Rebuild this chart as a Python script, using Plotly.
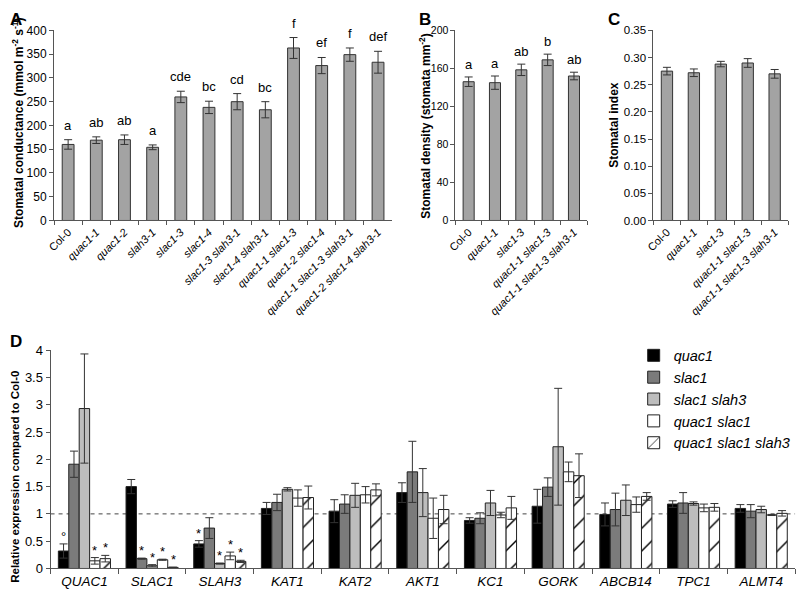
import plotly.graph_objects as go

W, H = 800, 595

# ---------------- data ----------------
a_cats = ["Col-0", "quac1-1", "quac1-2", "slah3-1", "slac1-3", "slac1-4",
          "slac1-3 slah3-1", "slac1-4 slah3-1", "quac1-1 slac1-3",
          "quac1-2 slac1-4", "quac1-1 slac1-3 slah3-1", "quac1-2 slac1-4 slah3-1"]
a_vals = [160, 169, 170, 154, 260, 238, 250, 233, 363, 326, 349, 333]
a_err = [10, 7, 10, 5, 12, 13, 17, 17, 22, 17, 14, 23]
a_letters = ["a", "ab", "ab", "a", "cde", "bc", "cd", "bc", "f", "ef", "f", "def"]

b_cats = ["Col-0", "quac1-1", "slac1-3", "quac1-1 slac1-3", "quac1-1 slac1-3 slah3-1"]
b_vals = [146, 145, 158.5, 169, 152]
b_err = [5, 7, 6, 6, 4]
b_letters = ["a", "a", "ab", "b", "ab"]

c_cats = ["Col-0", "quac1-1", "slac1-3", "quac1-1 slac1-3", "quac1-1 slac1-3 slah3-1"]
c_vals = [0.275, 0.272, 0.288, 0.290, 0.270]
c_err = [0.007, 0.007, 0.005, 0.008, 0.008]

genes = ["QUAC1", "SLAC1", "SLAH3", "KAT1", "KAT2", "AKT1", "KC1", "GORK",
         "ABCB14", "TPC1", "ALMT4"]
genotypes = ["quac1", "slac1", "slac1 slah3", "quac1 slac1", "quac1 slac1 slah3"]

expr_quac1 = [0.32, 1.50, 0.45, 1.10, 1.05, 1.39, 0.88, 1.14, 0.99, 1.18, 1.10]
err_quac1 = [0.13, 0.13, 0.06, 0.11, 0.21, 0.18, 0.05, 0.31, 0.21, 0.06, 0.07]
expr_slac1 = [1.91, 0.18, 0.74, 1.21, 1.18, 1.77, 0.92, 1.49, 1.08, 1.20, 1.05]
err_slac1 = [0.24, 0.01, 0.19, 0.15, 0.17, 0.56, 0.10, 0.17, 0.30, 0.19, 0.12]
expr_slac1_slah3 = [2.93, 0.05, 0.09, 1.45, 1.34, 1.39, 1.20, 2.23, 1.25, 1.19, 1.08]
err_slac1_slah3 = [1.00, 0.02, 0.01, 0.03, 0.22, 0.44, 0.23, 1.07, 0.28, 0.03, 0.06]
expr_quac1_slac1 = [0.14, 0.16, 0.23, 1.29, 1.35, 0.92, 0.98, 1.77, 1.17, 1.11, 0.98]
err_quac1_slac1 = [0.06, 0.01, 0.07, 0.15, 0.15, 0.37, 0.05, 0.18, 0.14, 0.07, 0.01]
expr_quac1_slac1_slah3 = [0.18, 0.02, 0.13, 1.30, 1.44, 1.08, 1.11, 1.70, 1.32, 1.12, 1.01]
err_quac1_slac1_slah3 = [0.06, 0.005, 0.02, 0.21, 0.11, 0.26, 0.21, 0.40, 0.07, 0.07, 0.05]

sig_quac1 = ["°", "", "*", "", "", "", "", "", "", "", ""]
sig_slac1 = ["", "*", "", "", "", "", "", "", "", "", ""]
sig_slac1_slah3 = ["", "*", "*", "", "", "", "", "", "", "", ""]
sig_quac1_slac1 = ["*", "*", "*", "", "", "", "", "", "", "", ""]
sig_quac1_slac1_slah3 = ["*", "*", "*", "", "", "", "", "", "", "", ""]

d_values = [expr_quac1, expr_slac1, expr_slac1_slah3, expr_quac1_slac1, expr_quac1_slac1_slah3]
d_errors = [err_quac1, err_slac1, err_slac1_slah3, err_quac1_slac1, err_quac1_slac1_slah3]
d_sig = [sig_quac1, sig_slac1, sig_slac1_slah3, sig_quac1_slac1, sig_quac1_slac1_slah3]

# ---------------- style ----------------
FONT = "Liberation Sans, Arial, sans-serif"
bar_fill = "#a3a3a3"
edge = "#333333"
axis_col = "#555555"
d_colors = ["#000000", "#7b7b7b", "#bdbdbd", "#ffffff", "#ffffff"]
bargap_d = 0.23


def fx(p):
    return p / W


def fy(p):
    return 1 - p / H


# panel domains in pixels
A_X = (46.5, 388)
B_X = (452, 585)
C_X = (652, 788)
TOP_Y = (219, 24)
D_X = (43, 795)
D_Y = (576, 352)

fig = go.Figure()


def simple_bars(cats, vals, err, xa, ya):
    fig.add_trace(go.Bar(
        x=cats, y=vals, width=0.42, xaxis=xa, yaxis=ya, showlegend=False,
        marker=dict(color=bar_fill, line=dict(color=edge, width=1)),
        error_y=dict(type="data", array=err, color=edge, thickness=1, width=4),
        hoverinfo="x+y"))


simple_bars(a_cats, a_vals, a_err, "x", "y")
simple_bars(b_cats, b_vals, b_err, "x2", "y2")
simple_bars(c_cats, c_vals, c_err, "x3", "y3")

for i, g in enumerate(genotypes):
    marker = dict(color=d_colors[i], line=dict(color="#222222", width=1))
    if i == 4:
        marker["pattern"] = dict(shape="/", fgcolor="#000000", bgcolor="#ffffff",
                                 fgopacity=1, size=16, solidity=0.09)
    fig.add_trace(go.Bar(
        x=genes, y=d_values[i], name=g, xaxis="x4", yaxis="y4",
        marker=marker,
        error_y=dict(type="data", array=d_errors[i], color=edge, thickness=1, width=4)))


def ital(c):
    return c if c == "Col-0" else "<i>%s</i>" % c


def xcat(cats, dom, anchor):
    return dict(domain=[fx(dom[0]), fx(dom[1])], anchor=anchor, type="category",
                range=[-0.5, len(cats) - 0.5], tickson="boundaries",
                ticks="outside", ticklen=4, tickcolor=axis_col, showline=True,
                linecolor=axis_col, linewidth=1, showgrid=False, tickangle=-45,
                tickvals=cats, ticktext=[ital(c) for c in cats],
                tickfont=dict(family=FONT, size=11, color="#000"))


def yval(rng, dtick, anchor, dom, fmt=None, size=12):
    d = dict(domain=[fy(dom[0]), fy(dom[1])], anchor=anchor, range=rng, dtick=dtick,
             ticks="outside", ticklen=4, tickcolor=axis_col, showline=True,
             linecolor=axis_col, linewidth=1, showgrid=False, zeroline=False,
             tickfont=dict(family=FONT, size=size, color="#000"))
    if fmt:
        d["tickformat"] = fmt
    return d


layout = dict(
    width=W, height=H, margin=dict(l=0, r=0, t=0, b=0),
    paper_bgcolor="white", plot_bgcolor="rgba(0,0,0,0)",
    barmode="group", bargap=bargap_d, bargroupgap=0,
    font=dict(family=FONT, color="#000"),
    xaxis=xcat(a_cats, A_X, "y"),
    yaxis=yval([0, 400], 50, "x", TOP_Y, size=12),
    xaxis2=xcat(b_cats, B_X, "y2"),
    yaxis2=yval([0, 200], 40, "x2", TOP_Y, size=10.5),
    xaxis3=xcat(c_cats, C_X, "y3"),
    yaxis3=yval([0, 0.35], 0.05, "x3", TOP_Y, fmt=".2f", size=11.5),
    xaxis4=dict(domain=[fx(D_X[0]), fx(D_X[1])], anchor="y4", type="category",
                range=[-0.5, len(genes) - 0.5], tickson="boundaries", ticks="outside",
                ticklen=5, tickcolor=axis_col, showline=True, linecolor=axis_col,
                showgrid=False,
                tickfont=dict(family=FONT, size=13.5, color="#000", style="italic")),
    yaxis4=yval([0, 4], 0.5, "x4", D_Y, size=13),
    legend=dict(x=fx(632), y=fy(341), xanchor="left", yanchor="top",
                font=dict(family=FONT, size=14.5, style="italic", color="#000"),
                bgcolor="rgba(0,0,0,0)", itemwidth=30, tracegroupgap=0),
)
fig.update_layout(**layout)

# dashed reference line at 1
fig.add_shape(type="line", xref="x4 domain", x0=0, x1=1, yref="y4", y0=1, y1=1,
              line=dict(color="#444444", width=1, dash="4px,4px"), layer="below")

ann = []
# letters above bars
for c, v, e, t in zip(a_cats, a_vals, a_err, a_letters):
    ann.append(dict(x=c, y=v + e, xref="x", yref="y", text=t, showarrow=False,
                    yanchor="bottom", yshift=5, font=dict(family=FONT, size=13)))
for c, v, e, t in zip(b_cats, b_vals, b_err, b_letters):
    ann.append(dict(x=c, y=v + e, xref="x2", yref="y2", text=t, showarrow=False,
                    yanchor="bottom", yshift=3, font=dict(family=FONT, size=13)))

# significance marks in D
group_px = (D_X[1] - D_X[0]) / len(genes)
bar_px = group_px * (1 - bargap_d) / len(genotypes)
for i in range(len(genotypes)):
    for gname, v, e, s in zip(genes, d_values[i], d_errors[i], d_sig[i]):
        if s:
            ann.append(dict(x=gname, y=v + e, xref="x4", yref="y4", text=s,
                            showarrow=False, yanchor="bottom",
                            xshift=(i - (len(genotypes) - 1) / 2) * bar_px, yshift=-2,
                            font=dict(family=FONT, size=13)))


# axis titles
def ytitle(text, xc, yc, size=12):
    ann.append(dict(x=fx(xc), y=fy(yc), xref="paper", yref="paper", text=text,
                    textangle=-90, showarrow=False, xanchor="center", yanchor="middle",
                    font=dict(family=FONT, size=size, color="#000", weight="bold")))


ytitle("Stomatal conductance (mmol m<sup>-2</sup> s<sup>-1</sup>)", 10, 119)
ytitle("Stomatal density (stomata mm<sup>-2</sup>)", 421, 122)
ytitle("Stomatal index", 612, 121)
ytitle("Relative expression compared to Col-0", 7, 482, size=11.5)

# panel labels
for lab, xp, yp in [("A", 0, 1), ("B", 413, 1), ("C", 604, 1), ("D", 0, 331)]:
    ann.append(dict(x=fx(xp), y=fy(yp), xref="paper", yref="paper", text=lab,
                    showarrow=False, xanchor="left", yanchor="top",
                    font=dict(family=FONT, size=17, color="#000", weight="bold")))

fig.update_layout(annotations=ann)
fig.write_html("out.html", config={"displayModeBar": False},
               post_script="document.body.style.margin='0px';")
